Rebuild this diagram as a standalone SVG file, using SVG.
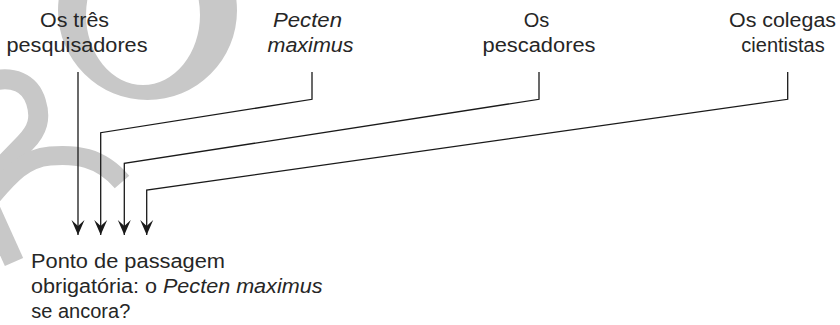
<svg xmlns="http://www.w3.org/2000/svg" width="840" height="325" viewBox="0 0 840 325">
<style>
  text { font-family: "Liberation Sans", Arial, sans-serif; font-size: 20px; fill: #262626; }
  .it { font-style: italic; }
  .wm { fill: none; stroke: #c8c8c8; stroke-linecap: butt; }
  .conn { fill: none; stroke: #1a1a1a; stroke-width: 1.3; marker-end: url(#ah); }
</style>
<defs>
  <marker id="ah" markerUnits="userSpaceOnUse" viewBox="-16 -8 17 16" refX="0" refY="0" markerWidth="17" markerHeight="16" orient="auto">
    <path d="M0,0 L-15,-6.5 L-9,0 L-15,6.5 Z" fill="#1a1a1a"/>
  </marker>
</defs>
<rect width="840" height="325" fill="#ffffff"/>
<g id="watermark">
  <path fill="#c8c8c8" fill-rule="evenodd" d="M58,10.5 A89.5,89.5 0 1 0 237,10.5 A89.5,89.5 0 1 0 58,10.5 Z M86,15 A57,70 0 1 0 200,15 A57,70 0 1 0 86,15 Z"/>
  <path class="wm" stroke-width="20" d="M-8,81 C12,76 30,82 36,102 C41,118 38,130 25,143 L-5,174"/>
  <path class="wm" stroke-width="19" d="M-8,196 C10,175 25,158 50,156 C75,154 100,156 122,182"/>
  <path class="wm" stroke-width="20" d="M-9,211 L14,262"/>
</g>
<g id="connectors">
  <path class="conn" d="M78,72 V235"/>
  <path class="conn" d="M312,72 V99.3 L100.7,132.7 V235"/>
  <path class="conn" d="M539,72 V99.3 L124.3,163.3 V235"/>
  <path class="conn" d="M787.7,72 V99.3 L146.7,190 V235"/>
</g>
<g id="node-pesquisadores">
  <text x="40" y="26.5" textLength="69" lengthAdjust="spacingAndGlyphs">Os três</text>
  <text x="6.5" y="51.5" textLength="141" lengthAdjust="spacingAndGlyphs">pesquisadores</text>
</g>
<g id="node-pecten">
  <text class="it" x="273" y="26.5" textLength="69" lengthAdjust="spacingAndGlyphs">Pecten</text>
  <text class="it" x="267.5" y="51.5" textLength="86" lengthAdjust="spacingAndGlyphs">maximus</text>
</g>
<g id="node-pescadores">
  <text x="536.5" y="26.5" text-anchor="middle">Os</text>
  <text x="482.5" y="51.5" textLength="113" lengthAdjust="spacingAndGlyphs">pescadores</text>
</g>
<g id="node-colegas">
  <text x="729" y="26.5" textLength="107" lengthAdjust="spacingAndGlyphs">Os colegas</text>
  <text x="783" y="51.5" text-anchor="middle">cientistas</text>
</g>
<g id="node-ponto">
  <text x="31" y="268" textLength="194" lengthAdjust="spacingAndGlyphs">Ponto de passagem</text>
  <text x="31" y="293" textLength="291.5" lengthAdjust="spacingAndGlyphs">obrigatória: o <tspan class="it">Pecten maximus</tspan></text>
  <text x="31.3" y="317.5">se ancora?</text>
</g>
</svg>
